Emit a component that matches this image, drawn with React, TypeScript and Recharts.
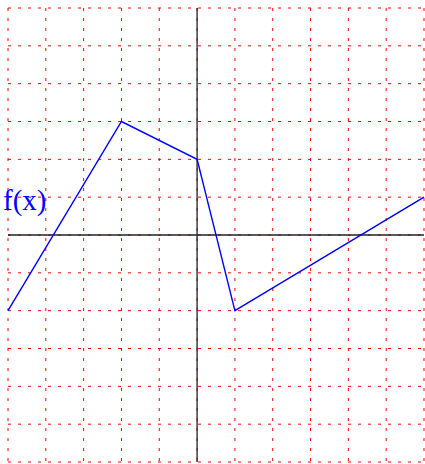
import React from "react";
import { LineChart, Line, XAxis, YAxis, CartesianGrid, ReferenceLine } from "recharts";

const xValues = [-5, -2, 0, 1, 6];
const fValues = [-2, 3, 2, -2, 1];
const xTicks = [-5, -4, -3, -2, -1, 0, 1, 2, 3, 4, 5, 6];
const yTicks = [-6, -5, -4, -3, -2, -1, 0, 1, 2, 3, 4, 5, 6];
const labelText = "f(x)";

const data = xValues.map((x, i) => ({ x, f: fValues[i] }));

export default function App() {
  return (
    <div style={{ position: "fixed", left: 0, top: 0, width: 425, height: 464, background: "#fff" }}>
      <LineChart width={425} height={464} data={data} margin={{ top: 8, right: 1, bottom: 2, left: 8 }}>
        <XAxis dataKey="x" type="number" domain={[-5, 6]} ticks={xTicks} hide />
        <YAxis type="number" domain={[-6, 6]} ticks={yTicks} hide />
        <ReferenceLine x={0} stroke="#222" strokeWidth={1.3} />
        <ReferenceLine y={0} stroke="#222" strokeWidth={1.3} />
        <CartesianGrid stroke="#ff0000" strokeDasharray="3 7" />
        <Line
          type="linear"
          dataKey="f"
          stroke="#0000ff"
          strokeWidth={1.4}
          dot={false}
          isAnimationActive={false}
        />
      </LineChart>
      <div
        style={{
          position: "absolute",
          left: 3,
          top: 183,
          fontFamily: "'Liberation Serif', 'DejaVu Serif', serif",
          fontSize: 29,
          lineHeight: "34px",
          color: "#0000ff",
        }}
      >
        {labelText}
      </div>
    </div>
  );
}
